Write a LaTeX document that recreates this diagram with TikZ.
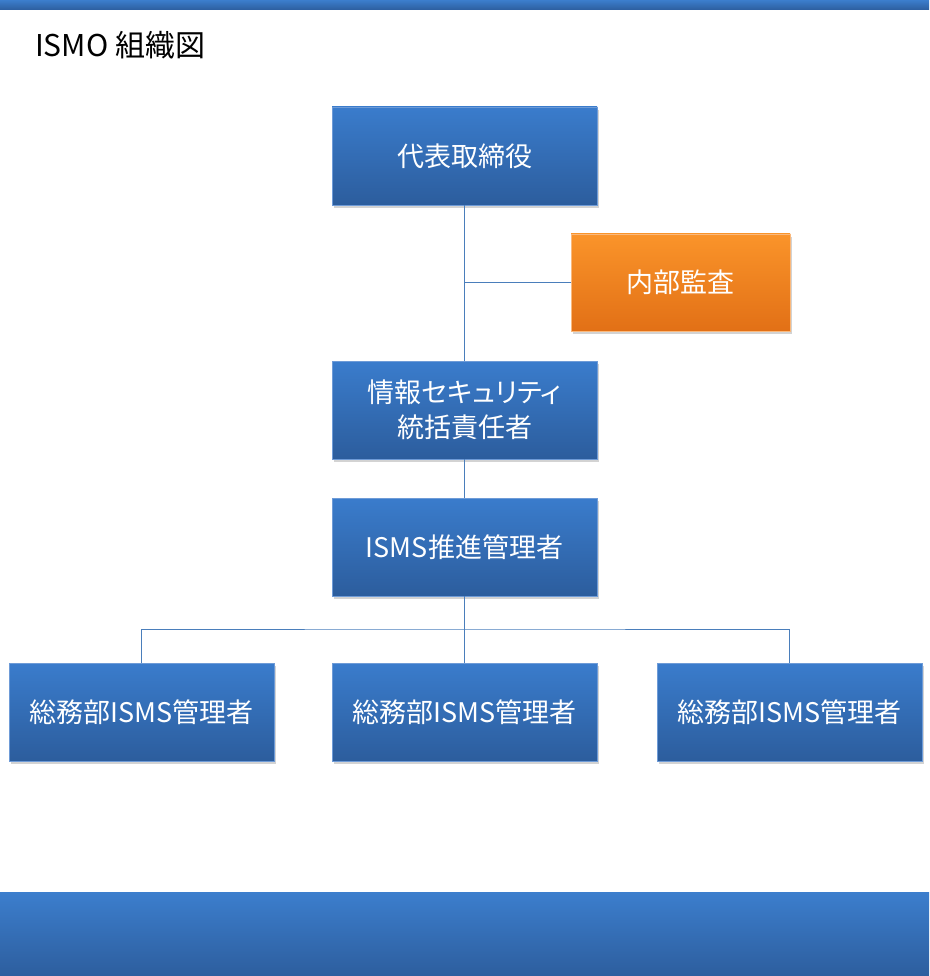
\documentclass[tikz,border=0pt]{standalone}
\usepackage{fontspec}
\setmainfont{Noto Sans CJK JP}
\newfontfamily\paltfont[RawFeature=+palt]{Noto Sans CJK JP}
\usepackage{tikz}
\usetikzlibrary{positioning,shadows}
\definecolor{bartop}{RGB}{60,126,205}
\definecolor{barbot}{RGB}{45,94,158}
\definecolor{boxtop}{RGB}{58,124,204}
\definecolor{boxbot}{RGB}{44,93,157}
\definecolor{boxline}{RGB}{110,155,215}
\definecolor{audtop}{RGB}{250,148,42}
\definecolor{audbot}{RGB}{226,112,22}
\definecolor{audline}{RGB}{250,185,125}
\definecolor{connblue}{RGB}{74,126,187}

\begin{document}
\begin{tikzpicture}[
    x=1pt, y=-1pt,
    node distance=58pt,
    orgbox/.style={draw=boxline, line width=0.8pt, top color=boxtop, bottom color=boxbot,
        minimum width=265pt, minimum height=98pt, inner sep=0pt, outer sep=0pt, align=center,
        text=white, font=\fontsize{27}{35}\selectfont,
        drop shadow={shadow xshift=2pt, shadow yshift=-3pt, opacity=0.35}},
    auditbox/.style={orgbox, draw=audline, top color=audtop, bottom color=audbot,
        minimum width=219pt, minimum height=97pt},
    conn/.style={draw=connblue, line width=1pt}
]
\useasboundingbox (0,0) rectangle (929,976);

% bars
\fill[top color=bartop, bottom color=barbot] (0,0) rectangle (929,10);
\fill[top color=bartop, bottom color=barbot] (0,892) rectangle (929,976);

% title
\node[anchor=base west, inner sep=0pt, font=\fontsize{30}{36}\selectfont] (title) at (35,57) {ISMO 組織図};

% boxes
\node[orgbox] (ceo) at (464.5,156) {代表取締役};
\node[auditbox] (audit) at (680.5,282.5) {内部監査};
\node[orgbox, below=156pt of ceo] (ciso) {{\paltfont 情報セキュリティ}\\統括責任者};
\node[orgbox, below=39pt of ciso] (mgr) {ISMS推進管理者};
\node[orgbox, below=67pt of mgr] (dept2) {総務部ISMS管理者};
\node[orgbox, left=of dept2] (dept1) {総務部ISMS管理者};
\node[orgbox, right=60pt of dept2] (dept3) {総務部ISMS管理者};

% connectors
\draw[conn] (ceo.south) -- (ciso.north);
\draw[conn] (ceo.south |- audit.west) -- (audit.west);
\draw[conn] (ciso.south) -- (mgr.north);
\draw[conn] (mgr.south) -- ++(0,33) coordinate (bus);
\draw[conn] (dept1.north) |- (bus) -| (dept3.north);
\draw[conn] (bus) -- (dept2.north);
\end{tikzpicture}
\end{document}
